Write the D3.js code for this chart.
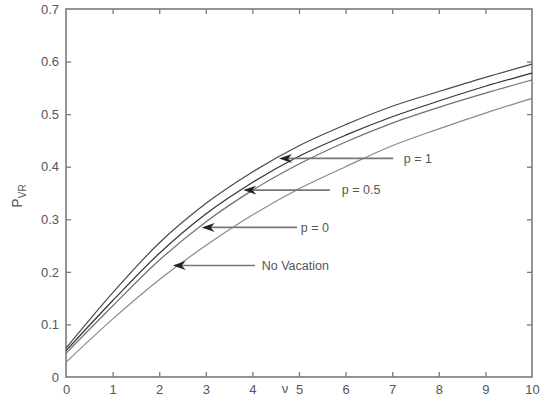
<!DOCTYPE html>
<html>
<head>
<meta charset="utf-8">
<script src="https://cdn.jsdelivr.net/npm/d3@7"></script>
<style>
  html, body { margin: 0; padding: 0; background: #fff; }
  svg { display: block; }
</style>
</head>
<body>
<div id="chart"></div>
<script>
// ---- data ----
const nu = [0, 1, 2, 3, 4, 5, 6, 7, 8, 9, 10];
const pOne      = [0.055, 0.160, 0.255, 0.330, 0.390, 0.440, 0.480, 0.515, 0.543, 0.570, 0.595];
const pHalf     = [0.050, 0.145, 0.235, 0.310, 0.370, 0.420, 0.460, 0.495, 0.525, 0.553, 0.578];
const pZero     = [0.045, 0.135, 0.222, 0.295, 0.355, 0.405, 0.447, 0.483, 0.513, 0.540, 0.565];
const noVac     = [0.028, 0.110, 0.185, 0.250, 0.308, 0.358, 0.400, 0.440, 0.472, 0.502, 0.530];
const xTicks = [0, 1, 2, 3, 4, 5, 6, 7, 8, 9, 10];
const yTicks = [0, 0.1, 0.2, 0.3, 0.4, 0.5, 0.6, 0.7];
const annLabels = ["p = 1", "p = 0.5", "p = 0", "No Vacation"];
const annTipX   = [4.571, 3.805, 2.912, 2.29];
const annTipY   = [0.4158, 0.3555, 0.2846, 0.212];
const annEndX   = [7.02, 5.665, 4.957, 4.056];
const annTextX  = [7.25, 5.92, 5.04, 4.20];

const W = 550, H = 403;
const svg = d3.select("#chart").append("svg").attr("width", W).attr("height", H);

const x = d3.scaleLinear().domain([0, 10]).range([66, 532]);
const y = d3.scaleLinear().domain([0, 0.7]).range([377, 9]);

const axisColor = "#7a7a7a";
const textColor = "#555";
const font = "'Liberation Sans', Arial, sans-serif";

// frame
svg.append("rect")
  .attr("x", x(0)).attr("y", y(0.7))
  .attr("width", x(10) - x(0)).attr("height", y(0) - y(0.7))
  .attr("fill", "none").attr("stroke", axisColor).attr("stroke-width", 1.6);

// axes with inward ticks
const tl = 5;
const gB = svg.append("g").attr("transform", `translate(0,${y(0)})`)
  .call(d3.axisBottom(x).tickValues(xTicks).tickSize(-tl).tickPadding(8).tickFormat(d3.format("d")));
const gT = svg.append("g").attr("transform", `translate(0,${y(0.7)})`)
  .call(d3.axisTop(x).tickValues(xTicks).tickSize(-tl).tickFormat(""));
const gL = svg.append("g").attr("transform", `translate(${x(0)},0)`)
  .call(d3.axisLeft(y).tickValues(yTicks).tickSize(-tl).tickPadding(7).tickFormat(d => d === 0 ? "0" : d3.format(".1f")(d)));
const gR = svg.append("g").attr("transform", `translate(${x(10)},0)`)
  .call(d3.axisRight(y).tickValues(yTicks).tickSize(-tl).tickFormat(""));

[gB, gT, gL, gR].forEach(g => {
  g.select(".domain").remove();
  g.selectAll(".tick line").attr("stroke", axisColor).attr("stroke-width", 1.3);
  g.selectAll(".tick text").attr("fill", textColor).style("font-family", font).style("font-size", "13px");
});
gB.selectAll(".tick text").attr("dy", "0.71em");
// remove first/last tick lines that overlap the frame
[gB, gT].forEach(g => g.selectAll(".tick line").filter(d => d === 0 || d === 10).remove());
[gL, gR].forEach(g => g.selectAll(".tick line").filter(d => d === 0 || d === 0.7).remove());

// x axis label (nu)
svg.append("text").attr("x", 285).attr("y", 393)
  .attr("text-anchor", "middle").attr("fill", textColor)
  .style("font-family", font).style("font-size", "13px").text("ν");

// y axis label P_VR
const yl = svg.append("text")
  .attr("transform", "translate(22,196) rotate(-90)")
  .attr("text-anchor", "middle").attr("fill", textColor)
  .style("font-family", font).style("font-size", "14px");
yl.append("tspan").text("P");
yl.append("tspan").attr("dy", "4").style("font-size", "10px").text("VR");

// curves
const series = [
  { vals: pOne,  color: "#4a4a4a" },
  { vals: pHalf, color: "#333" },
  { vals: pZero, color: "#707070" },
  { vals: noVac, color: "#8a8a8a" }
];
const line = d3.line().x((d, i) => x(nu[i])).y(d => y(d)).curve(d3.curveMonotoneX);
series.forEach(s => {
  svg.append("path").datum(s.vals)
    .attr("d", line)
    .attr("fill", "none").attr("stroke", s.color).attr("stroke-width", 1.2);
});

// annotations
annLabels.forEach((lab, i) => {
  const tx = x(annTipX[i]), ty = y(annTipY[i]);
  svg.append("line")
    .attr("x1", tx + 6).attr("y1", ty).attr("x2", x(annEndX[i])).attr("y2", ty)
    .attr("stroke", "#777").attr("stroke-width", 1.6);
  svg.append("path")
    .attr("d", `M${tx},${ty} L${tx + 13},${ty - 4.5} L${tx + 9},${ty} L${tx + 13},${ty + 4.5} Z`)
    .attr("fill", "#222");
  svg.append("text").attr("x", x(annTextX[i])).attr("y", ty)
    .attr("dy", "0.35em").attr("fill", textColor)
    .style("font-family", font).style("font-size", "12.5px").text(lab);
});
</script>
</body>
</html>
